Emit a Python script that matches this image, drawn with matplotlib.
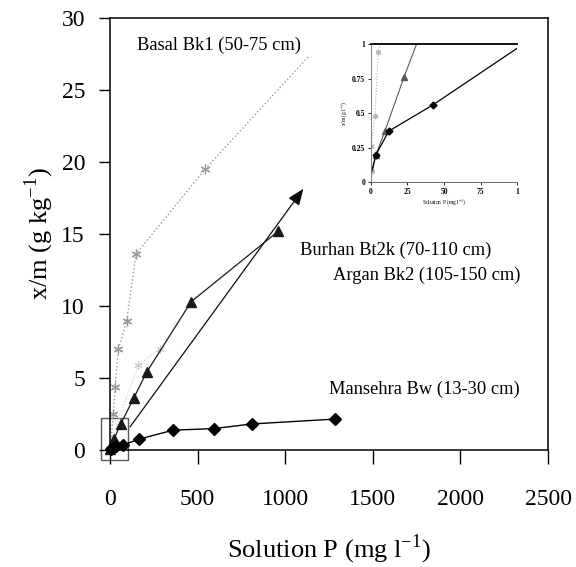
import matplotlib
matplotlib.use("Agg")
import matplotlib.pyplot as plt
from matplotlib.patches import Rectangle

plt.rcParams["font.family"] = ["Liberation Serif", "DejaVu Serif"]
plt.rcParams["mathtext.fontset"] = "custom"
plt.rcParams["mathtext.rm"] = "Liberation Serif"

# sorption isotherms, main panel (solution P in mg/l, x/m in g/kg)
mansehra_x = [3, 12, 35, 76, 167, 360, 594, 809, 1285]
mansehra_y = [0.06, 0.14, 0.25, 0.36, 0.76, 1.38, 1.49, 1.81, 2.15]

burhan_x = [2, 4, 10, 23, 62, 135, 209, 463, 961]
burhan_y = [0.09, 0.2, 0.37, 0.76, 1.83, 3.6, 5.4, 10.3, 15.2]

basal_x = [3, 19, 29, 48, 95, 148, 542, 1131]
basal_y = [0.4, 2.5, 4.4, 7.0, 8.95, 13.6, 19.5, 27.3]

argan_x = [10, 162, 286]
argan_y = [0.8, 5.9, 7.05]
argan_arrow = [(105, 1.45), (1113, 18.3)]

labels = ["Basal Bk1 (50-75 cm)", "Burhan Bt2k (70-110 cm)",
          "Argan Bk2 (105-150 cm)", "Mansehra Bw (13-30 cm)"]
label_xy = [(154, 28.1), (1085, 13.9), (1274, 12.1), (1251, 4.2)]

# low-concentration detail (inset)
in_mansehra_x = [0.7, 3.6, 12.3, 42.5, 100]
in_mansehra_y = [0.08, 0.2, 0.37, 0.56, 0.97]
in_burhan_x = [1.3, 3.6, 9.7, 22.7, 31.3]
in_burhan_y = [0.09, 0.2, 0.37, 0.76, 1.0]
in_basal_x = [0.8, 0.5, 2.9, 5.2, 6.5]
in_basal_y = [0.08, 0.26, 0.48, 0.94, 1.0]

asterisk = (6, 2, 0)

fig = plt.figure(figsize=(5.76, 5.67), dpi=100)
ax = fig.add_axes([0.191, 0.2063, 0.7604, 0.7619])

ax.plot(basal_x, basal_y, ":", color="0.6", lw=1.0, marker=asterisk,
        markersize=7, markeredgewidth=0.9, markevery=list(range(len(basal_x) - 1)))
ax.plot(argan_x, argan_y, ":", color="0.8", lw=0.8, marker=asterisk,
        markersize=6, markeredgewidth=0.8)
ax.plot(burhan_x, burhan_y, "-", color="0.1", lw=0.9, marker="^",
        markersize=6.5, clip_on=False)
ax.plot(mansehra_x, mansehra_y, "-", color="black", lw=1.0, marker="D",
        markersize=6, clip_on=False)
ax.annotate("", xy=argan_arrow[1], xytext=argan_arrow[0],
            arrowprops=dict(arrowstyle="-|>,head_length=1.0,head_width=0.4",
                            color="0.05", lw=0.9))

ax.add_patch(Rectangle((-53, -0.7), 157, 2.9, fill=False, edgecolor="0.35",
                       lw=1.0, clip_on=False))

for text, (lx, ly) in zip(labels, label_xy):
    ax.text(lx, ly, text, fontsize=13.3, ha="left", va="center")

ax.set_xlim(0, 2500)
ax.set_ylim(0, 30)
ax.set_xticks(range(0, 2501, 500))
ax.set_yticks(range(0, 31, 5))
ax.tick_params(axis="x", direction="out", length=10, width=1, pad=18, labelsize=17)
ax.tick_params(axis="y", direction="out", length=8, width=1, pad=10, labelsize=17)
for s in ax.spines.values():
    s.set_linewidth(1.1)
ax.set_xlabel(r"Solution P (mg l$^{\mathregular{-1}}$)", fontsize=19, labelpad=16)
ax.set_ylabel(r"x/m (g kg$^{\mathregular{-1}}$)", fontsize=19, labelpad=4)

# inset: 0-100 mg/l range
ins = fig.add_axes([0.6436, 0.6785, 0.2545, 0.2439])
ins.plot(in_basal_x, in_basal_y, ":", color="0.7", lw=0.8, marker=asterisk,
         markersize=4, markevery=[0, 1, 2, 3])
ins.plot(in_burhan_x, in_burhan_y, "-", color="0.35", lw=0.8, marker="^",
         markersize=4, markevery=[1, 2, 3])
ins.plot(in_mansehra_x, in_mansehra_y, "-", color="black", lw=0.9, marker="D",
         markersize=3.5, markevery=[1, 2, 3])
ins.set_xlim(0, 100)
ins.set_ylim(0, 1)
ins.set_xticks([0, 25, 50, 75, 100])
ins.set_xticklabels(["0", "25", "50", "75", "1"], fontweight="bold")
ins.set_yticks([0, 0.25, 0.5, 0.75, 1])
ins.set_yticklabels(["0", "0.25", "0.5", "0.75", "1"], fontweight="bold")
ins.tick_params(labelsize=5.5, length=2, width=0.6, pad=2)
ins.spines["right"].set_visible(False)
ins.spines["top"].set_linewidth(1.3)
ins.spines["left"].set_color("0.5")
ins.spines["left"].set_linewidth(0.7)
ins.spines["bottom"].set_color("0.4")
ins.spines["bottom"].set_linewidth(0.7)
ins.set_xlabel(r"Solution P (mg l$^{\mathregular{-1}}$)", fontsize=4, labelpad=1)
ins.set_ylabel(r"x/m (g l$^{\mathregular{-1}}$)", fontsize=4, labelpad=2)
ins.patch.set_alpha(0)

fig.savefig("out.png", dpi=100)
